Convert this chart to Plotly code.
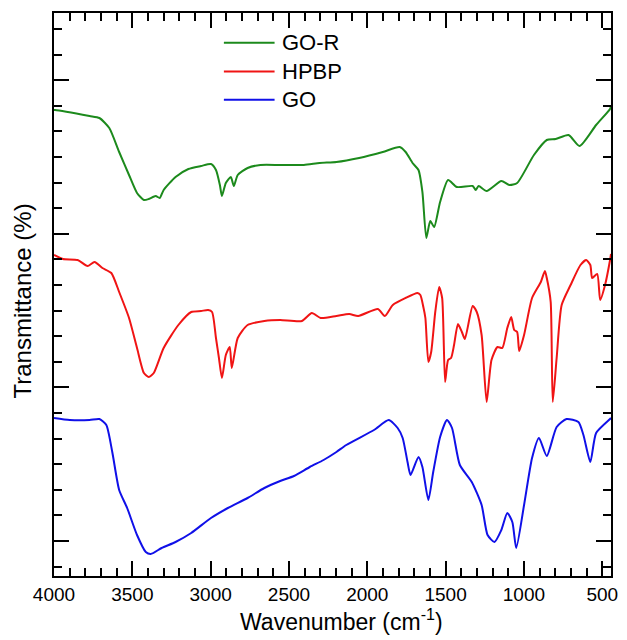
import plotly.graph_objects as go

# Wavenumber (cm^-1) and transmittance (arbitrary, offset units)
gor_wn = [4000, 3994, 3773, 3710, 3647, 3584, 3521, 3470, 3426, 3395, 3351, 3325, 3300, 3224, 3142, 3061,
          2998, 2966, 2941, 2928, 2903, 2871, 2852, 2827, 2764, 2682, 2556, 2405, 2304, 2197, 2052, 1901,
          1793, 1755, 1711, 1673, 1648, 1623, 1598, 1573, 1535, 1484, 1428, 1327, 1308, 1289, 1238, 1144,
          1093, 1043, 936, 854, 797, 715, 645, 539, 450, 444]
gor_t = [466, 466, 460, 458, 448, 424, 401, 383, 376, 377, 380, 378, 386, 399, 407, 410,
         412, 406, 391, 380, 393, 399, 390, 401, 408, 411, 411, 411, 413, 414, 418, 424,
         429, 424, 413, 406, 384, 338, 355, 349, 374, 396, 389, 390, 386, 390, 385, 395,
         391, 393, 421, 436, 437, 441, 430, 451, 467, 470]

hpbp_wn = [4000, 3943, 3849, 3786, 3741, 3691, 3634, 3584, 3521, 3470, 3426, 3395, 3363, 3300, 3206, 3124,
           3061, 3016, 2991, 2966, 2947, 2928, 2903, 2878, 2865, 2827, 2764, 2657, 2556, 2417, 2354, 2298,
           2197, 2115, 2058, 1932, 1888, 1837, 1755, 1680, 1661, 1642, 1629, 1610, 1592, 1566, 1541, 1522,
           1503, 1484, 1465, 1446, 1421, 1396, 1377, 1327, 1301, 1270, 1238, 1207, 1169, 1138, 1106, 1081,
           1062, 1043, 1030, 999, 948, 892, 866, 854, 829, 816, 791, 759, 702, 639, 602, 576, 564, 532,
           513, 482, 450, 444]
hpbp_t = [321, 317, 316, 310, 314, 308, 303, 284, 258, 228, 203, 199, 203, 228, 251, 264,
          265, 266, 264, 238, 218, 198, 221, 229, 208, 238, 251, 255, 256, 255, 263, 258,
          260, 262, 260, 267, 260, 271, 278, 283, 281, 269, 258, 214, 224, 264, 289, 278,
          194, 216, 218, 231, 252, 244, 237, 270, 264, 241, 174, 216, 229, 228, 248, 259,
          246, 244, 225, 241, 278, 294, 305, 298, 274, 174, 218, 271, 291, 311, 316, 311, 298, 302,
          276, 291, 316, 322]

go_wn = [4000, 3899, 3773, 3710, 3666, 3628, 3584, 3533, 3470, 3414, 3382, 3313, 3224, 3124, 2998, 2890,
         2764, 2657, 2556, 2468, 2367, 2279, 2197, 2134, 1957, 1863, 1806, 1774, 1743, 1724, 1673, 1648,
         1610, 1579, 1535, 1491, 1459, 1409, 1333, 1270, 1232, 1188, 1144, 1106, 1074, 1049, 999, 948,
         904, 854, 791, 728, 652, 620, 576, 539, 450, 444]
go_t = [158, 156, 156, 157, 151, 124, 86, 68, 41, 24, 22, 28, 34, 43, 58, 68,
        78, 88, 95, 100, 109, 116, 124, 131, 146, 156, 148, 138, 114, 101, 119, 109,
        76, 104, 139, 156, 148, 111, 94, 71, 41, 34, 46, 63, 54, 28, 71, 118,
        138, 120, 149, 157, 154, 141, 114, 143, 157, 158]

series_names = ["GO-R", "HPBP", "GO"]
series_colors = ["#1C8A1C", "#F01414", "#1010E8"]
series_x = [gor_wn, hpbp_wn, go_wn]
series_y = [gor_t, hpbp_t, go_t]

x_title = "Wavenumber (cm<sup>-1</sup>)"
y_title = "Transmittance (%)"

font_family = "Liberation Sans, Arial, sans-serif"

fig = go.Figure()
for name, x, y, c in zip(series_names, series_x, series_y, series_colors):
    fig.add_trace(go.Scatter(x=x, y=y, name=name, mode="lines", showlegend=False,
                             line=dict(color=c, width=2, shape="spline", smoothing=0.6)))

# Legend drawn as line samples + text labels (paper coordinates)
legend_rows_y = [0.947, 0.896, 0.846]
for name, c, ly in zip(series_names, series_colors, legend_rows_y):
    fig.add_shape(type="line", xref="paper", yref="paper", x0=0.305, x1=0.396, y0=ly, y1=ly,
                  line=dict(color=c, width=2))
    fig.add_annotation(x=0.405, y=ly, xref="paper", yref="paper", text=name, showarrow=False,
                       xanchor="left", yanchor="middle", font=dict(size=22, color="black"))

# Axis titles
fig.add_annotation(x=0.516, y=-0.079, xref="paper", yref="paper", text=x_title, showarrow=False,
                   xanchor="center", yanchor="middle", font=dict(size=23, color="black"))
fig.add_annotation(x=-0.057, y=0.488, xref="paper", yref="paper", text=y_title, showarrow=False,
                   textangle=-90, xanchor="center", yanchor="middle", font=dict(size=24, color="black"))

fig.update_layout(
    width=627, height=640,
    margin=dict(l=54, r=9, t=13, b=64),
    paper_bgcolor="white", plot_bgcolor="white",
    font=dict(family=font_family, size=18, color="black"),
    showlegend=False,
)
fig.update_xaxes(
    range=[4000, 444], showgrid=False, zeroline=False,
    showline=True, linecolor="black", linewidth=2, mirror="allticks",
    ticks="inside", ticklen=15, tickwidth=1.5, tickcolor="black",
    tick0=0, dtick=500,
    minor=dict(ticks="inside", ticklen=8, tickwidth=1.5, tickcolor="black", dtick=100, showgrid=False),
    tickfont=dict(size=19),
)
fig.update_yaxes(
    range=[0, 563], showgrid=False, zeroline=False,
    showline=True, linecolor="black", linewidth=2, mirror="allticks",
    ticks="inside", ticklen=15, tickwidth=1.5, tickcolor="black",
    tick0=35, dtick=153.6, showticklabels=False,
    minor=dict(ticks="inside", ticklen=8, tickwidth=1.5, tickcolor="black", tick0=35, dtick=25.6, showgrid=False),
)

fig.write_html("out.html")
